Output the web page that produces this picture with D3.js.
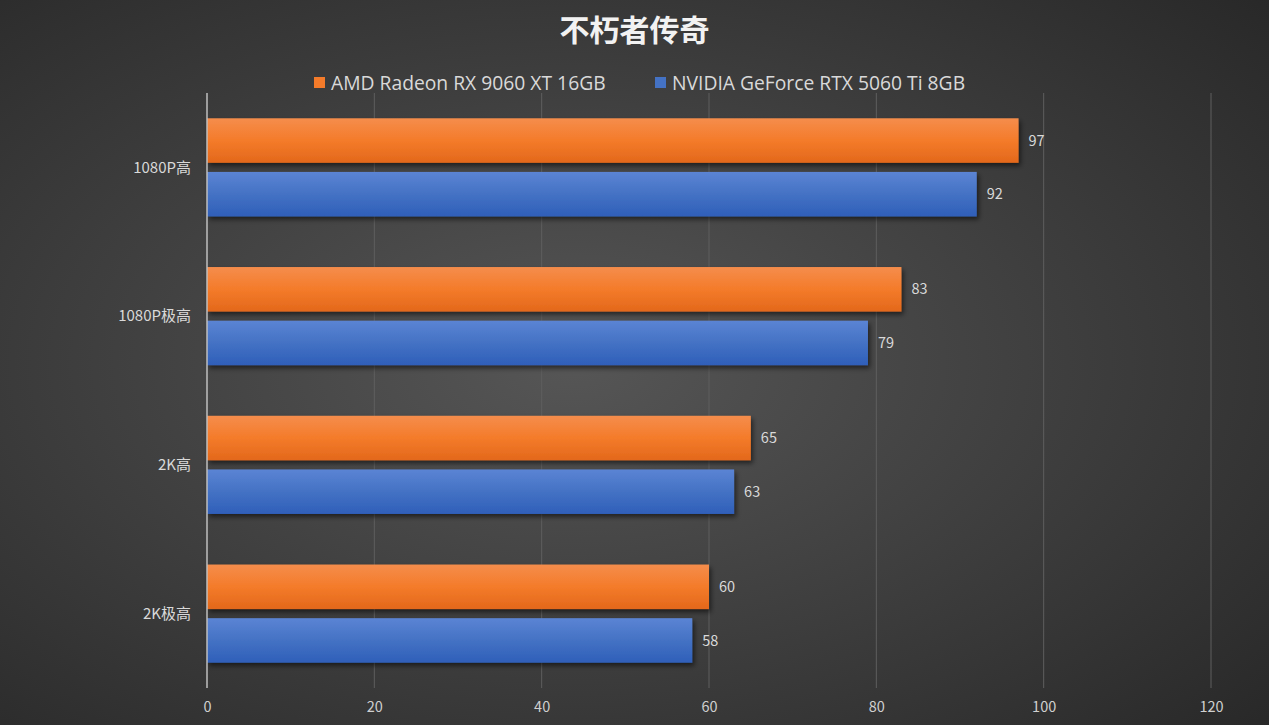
<!DOCTYPE html>
<html>
<head>
<meta charset="utf-8">
<script src="https://cdn.jsdelivr.net/npm/d3@7"></script>
<style>
  html, body { margin: 0; padding: 0; background: #3a3a3a; }
  svg { display: block; }
</style>
</head>
<body>
<div id="chart"></div>
<script>
// Données
const categories = ["1080P高", "1080P极高", "2K高", "2K极高"]
const seriesNames = ["AMD Radeon RX 9060 XT 16GB", "NVIDIA GeForce RTX 5060 Ti 8GB"]
const amdValues = [97, 83, 65, 60]
const nvidiaValues = [92, 79, 63, 58]
const xTicks = [0, 20, 40, 60, 80, 100, 120]
const title = "不朽者传奇"

const width = 1269, height = 725
const margin = {top: 93, right: 58, bottom: 37, left: 207}
const fontCJK = "'Noto Sans CJK SC', 'Open Sans', sans-serif"

const svg = d3.select("#chart").append("svg")
   .attr("width", width)
   .attr("height", height)

const defs = svg.append("defs")

// fond : dégradé radial gris
const bg = defs.append("radialGradient")
   .attr("id", "bgGrad")
   .attr("cx", "45%").attr("cy", "50%").attr("r", "75%")
bg.append("stop").attr("offset", "0%").attr("stop-color", "#565656")
bg.append("stop").attr("offset", "100%").attr("stop-color", "#282828")

// dégradés des barres (plus clair en haut)
const barColors = [
   {id: "gradAmd", top: "#f58d4c", mid: "#f47b2a", bottom: "#e3681b"},
   {id: "gradNv", top: "#5b84d4", mid: "#4472c4", bottom: "#2f5fb9"}
]
for (let c of barColors) {
   const g = defs.append("linearGradient")
      .attr("id", c.id)
      .attr("x1", 0).attr("y1", 0).attr("x2", 0).attr("y2", 1)
   g.append("stop").attr("offset", "0%").attr("stop-color", c.top)
   g.append("stop").attr("offset", "50%").attr("stop-color", c.mid)
   g.append("stop").attr("offset", "100%").attr("stop-color", c.bottom)
}

const shadow = defs.append("filter")
   .attr("id", "shadow")
   .attr("x", "-5%").attr("y", "-20%").attr("width", "115%").attr("height", "150%")
shadow.append("feDropShadow")
   .attr("dx", 2).attr("dy", 3)
   .attr("stdDeviation", 2.5)
   .attr("flood-color", "#000").attr("flood-opacity", 0.55)

svg.append("rect")
   .attr("width", width).attr("height", height)
   .attr("fill", "url(#bgGrad)")

const x = d3.scaleLinear()
   .domain([0, 120])
   .range([margin.left, width - margin.right])

const y = d3.scaleBand()
   .domain(categories)
   .range([margin.top, height - margin.bottom])
   .paddingInner(0.34)
   .paddingOuter(0.17)

const ySub = d3.scaleBand()
   .domain(seriesNames)
   .range([0, y.bandwidth()])
   .paddingInner(0.17)

// grille verticale
svg.append("g")
   .selectAll("line")
   .data(xTicks.slice(1))
   .join("line")
   .attr("x1", d => x(d)).attr("x2", d => x(d))
   .attr("y1", margin.top).attr("y2", height - margin.bottom)
   .attr("stroke", "#5e5e5e")
   .attr("stroke-width", 1)

// libellés de l'axe x
const xAxis = svg.append("g")
   .attr("transform", `translate(0,${height - margin.bottom})`)
   .call(d3.axisBottom(x).tickValues(xTicks).tickSize(0).tickPadding(14))
xAxis.select(".domain").remove()
xAxis.selectAll("text")
   .attr("fill", "#d0d0d0")
   .style("font-family", fontCJK)
   .style("font-size", "14.5px")

// barres
const series = [
   {name: seriesNames[0], values: amdValues, fill: "url(#gradAmd)"},
   {name: seriesNames[1], values: nvidiaValues, fill: "url(#gradNv)"}
]

for (let s of series) {
   const g = svg.append("g")
   g.selectAll("rect")
      .data(categories)
      .join("rect")
      .attr("x", x(0))
      .attr("y", c => y(c) + ySub(s.name))
      .attr("width", (c, i) => x(s.values[i]) - x(0))
      .attr("height", ySub.bandwidth())
      .attr("fill", s.fill)
      .attr("filter", "url(#shadow)")

   g.selectAll("text")
      .data(categories)
      .join("text")
      .attr("x", (c, i) => x(s.values[i]) + 10)
      .attr("y", c => y(c) + ySub(s.name) + ySub.bandwidth() / 2)
      .attr("dy", "0.35em")
      .attr("fill", "#d9d9d9")
      .style("font-family", fontCJK)
      .style("font-size", "14.5px")
      .text((c, i) => s.values[i])
}

// axe y (trait + catégories)
svg.append("line")
   .attr("x1", x(0)).attr("x2", x(0))
   .attr("y1", margin.top).attr("y2", height - margin.bottom)
   .attr("stroke", "#bfbfbf")
   .attr("stroke-width", 1.5)

svg.append("g")
   .selectAll("text")
   .data(categories)
   .join("text")
   .attr("x", x(0) - 16)
   .attr("y", c => y(c) + y.bandwidth() / 2)
   .attr("dy", "0.35em")
   .attr("text-anchor", "end")
   .attr("fill", "#d9d9d9")
   .style("font-family", fontCJK)
   .style("font-size", "15px")
   .text(c => c)

// titre
svg.append("text")
   .attr("x", width / 2)
   .attr("y", 41)
   .attr("text-anchor", "middle")
   .attr("fill", "#f2f2f2")
   .style("font-family", fontCJK)
   .style("font-size", "30px")
   .style("font-weight", "bold")
   .text(title)

// légende
const legendItems = [
   {name: seriesNames[0], color: "#f47b2a", x: 314},
   {name: seriesNames[1], color: "#4472c4", x: 655}
]
const legend = svg.append("g")
for (let item of legendItems) {
   legend.append("rect")
      .attr("x", item.x).attr("y", 77)
      .attr("width", 11).attr("height", 11)
      .attr("fill", item.color)
   legend.append("text")
      .attr("x", item.x + 17)
      .attr("y", 83)
      .attr("dy", "0.35em")
      .attr("fill", "#d9d9d9")
      .style("font-family", "'Open Sans', sans-serif")
      .style("font-size", "19.3px")
      .text(item.name)
}
</script>
</body>
</html>
